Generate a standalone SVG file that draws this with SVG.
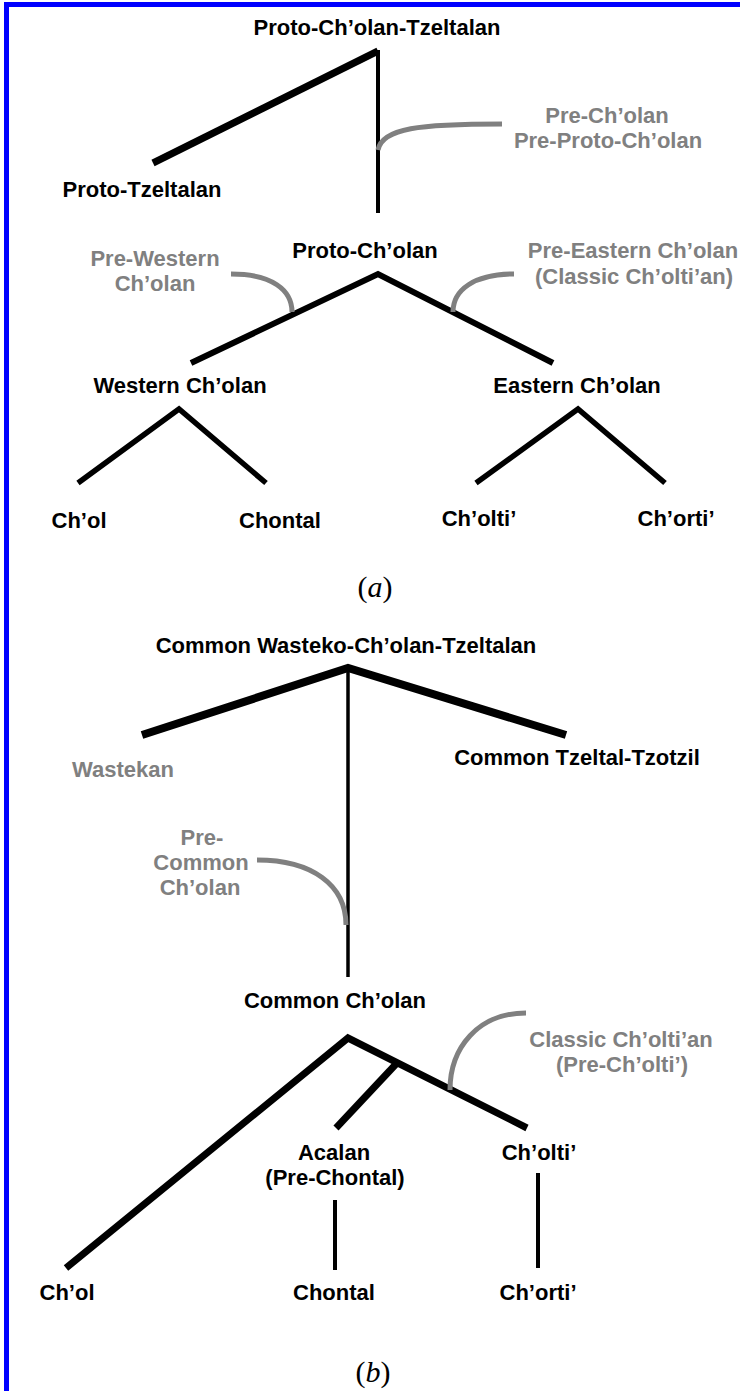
<svg xmlns="http://www.w3.org/2000/svg" width="740" height="1391" viewBox="0 0 740 1391">
  <style>
    .lbl { font-family: "Liberation Sans", Arial, sans-serif; font-weight: bold; font-size: 22px; text-anchor: middle; fill: #000; }
    .gray { fill: #808080; }
    .cap { font-family: "Liberation Serif", "Times New Roman", serif; font-size: 30px; text-anchor: middle; fill: #000; }
    .br { stroke: #000; fill: none; stroke-linecap: butt; stroke-linejoin: miter; }
    .note { stroke: #808080; fill: none; stroke-width: 5; stroke-linecap: butt; }
  </style>
  <rect x="0" y="0" width="740" height="1391" fill="#fff"/>
  <!-- frame edges -->
  <rect x="4" y="2" width="736" height="5" fill="#0000ff"/>
  <rect x="4" y="2" width="5" height="1389" fill="#0000ff"/>

  <!-- connectors -->
  <g id="connectors">
    <!-- tree (a) -->
    <line class="br" x1="378" y1="50" x2="378" y2="213" stroke-width="4"/>
    <polyline class="br" points="153,163 378,51" stroke-width="7"/>
    <polyline class="br" points="191,363 378,274 553,363" stroke-width="6"/>
    <polyline class="br" points="78,483 179,409 266,483" stroke-width="5.5"/>
    <polyline class="br" points="476,483 578,409 665,483" stroke-width="5.5"/>
    <path class="note" d="M378,150 C382,128 420,124 502,124"/>
    <path class="note" d="M231,274 C272,274 292,290 292,312"/>
    <path class="note" d="M514,274 C474,274 453,290 453,312"/>

    <!-- tree (b) -->
    <polyline class="br" points="142,735 348,668 566,735" stroke-width="8"/>
    <line class="br" x1="348" y1="668" x2="348" y2="977" stroke-width="3.5"/>
    <path class="note" d="M257,860 C312,860 346,885 346,925"/>
    <polyline class="br" points="66,1268 348,1038 527,1128" stroke-width="7"/>
    <line class="br" x1="397" y1="1063" x2="336" y2="1128" stroke-width="7"/>
    <path class="note" d="M526,1013 C478,1013 450,1048 450,1090"/>
    <line class="br" x1="335" y1="1200" x2="335" y2="1270" stroke-width="4"/>
    <line class="br" x1="538" y1="1173" x2="538" y2="1268" stroke-width="4"/>
  </g>

  <!-- nodes of tree (a) -->
  <g id="a-proto-cholan-tzeltalan"><text class="lbl" x="377" y="35">Proto-Ch’olan-Tzeltalan</text></g>
  <g id="a-proto-tzeltalan"><text class="lbl" x="142" y="197">Proto-Tzeltalan</text></g>
  <g id="a-pre-cholan"><text class="lbl gray" x="607" y="123">Pre-Ch’olan</text><text class="lbl gray" x="608" y="148">Pre-Proto-Ch’olan</text></g>
  <g id="a-proto-cholan"><text class="lbl" x="365" y="258">Proto-Ch’olan</text></g>
  <g id="a-pre-western"><text class="lbl gray" x="155" y="266">Pre-Western</text><text class="lbl gray" x="155" y="291">Ch’olan</text></g>
  <g id="a-pre-eastern"><text class="lbl gray" x="633" y="258">Pre-Eastern Ch’olan</text><text class="lbl gray" x="634" y="284">(Classic Ch’olti’an)</text></g>
  <g id="a-western-cholan"><text class="lbl" x="180" y="393">Western Ch’olan</text></g>
  <g id="a-eastern-cholan"><text class="lbl" x="577" y="393">Eastern Ch’olan</text></g>
  <g id="a-chol"><text class="lbl" x="79" y="528">Ch’ol</text></g>
  <g id="a-chontal"><text class="lbl" x="280" y="528">Chontal</text></g>
  <g id="a-cholti"><text class="lbl" x="479" y="526">Ch’olti’</text></g>
  <g id="a-chorti"><text class="lbl" x="676" y="526">Ch’orti’</text></g>
  <g id="caption-a"><text class="cap" x="375" y="597">(<tspan font-style="italic">a</tspan>)</text></g>

  <!-- nodes of tree (b) -->
  <g id="b-common-wasteko"><text class="lbl" x="346" y="653">Common Wasteko-Ch’olan-Tzeltalan</text></g>
  <g id="b-wastekan"><text class="lbl gray" x="123" y="777">Wastekan</text></g>
  <g id="b-tzeltal-tzotzil"><text class="lbl" x="577" y="765">Common Tzeltal-Tzotzil</text></g>
  <g id="b-pre-common-cholan"><text class="lbl gray" x="202" y="845">Pre-</text><text class="lbl gray" x="201" y="870">Common</text><text class="lbl gray" x="200" y="895">Ch’olan</text></g>
  <g id="b-common-cholan"><text class="lbl" x="335" y="1008">Common Ch’olan</text></g>
  <g id="b-classic-cholti-an"><text class="lbl gray" x="621" y="1047">Classic Ch’olti’an</text><text class="lbl gray" x="622" y="1072">(Pre-Ch’olti’)</text></g>
  <g id="b-acalan"><text class="lbl" x="334" y="1160">Acalan</text><text class="lbl" x="335" y="1185">(Pre-Chontal)</text></g>
  <g id="b-cholti"><text class="lbl" x="539" y="1160">Ch’olti’</text></g>
  <g id="b-chol"><text class="lbl" x="67" y="1300">Ch’ol</text></g>
  <g id="b-chontal"><text class="lbl" x="334" y="1300">Chontal</text></g>
  <g id="b-chorti"><text class="lbl" x="538" y="1300">Ch’orti’</text></g>
  <g id="caption-b"><text class="cap" x="373" y="1382">(<tspan font-style="italic">b</tspan>)</text></g>
</svg>
